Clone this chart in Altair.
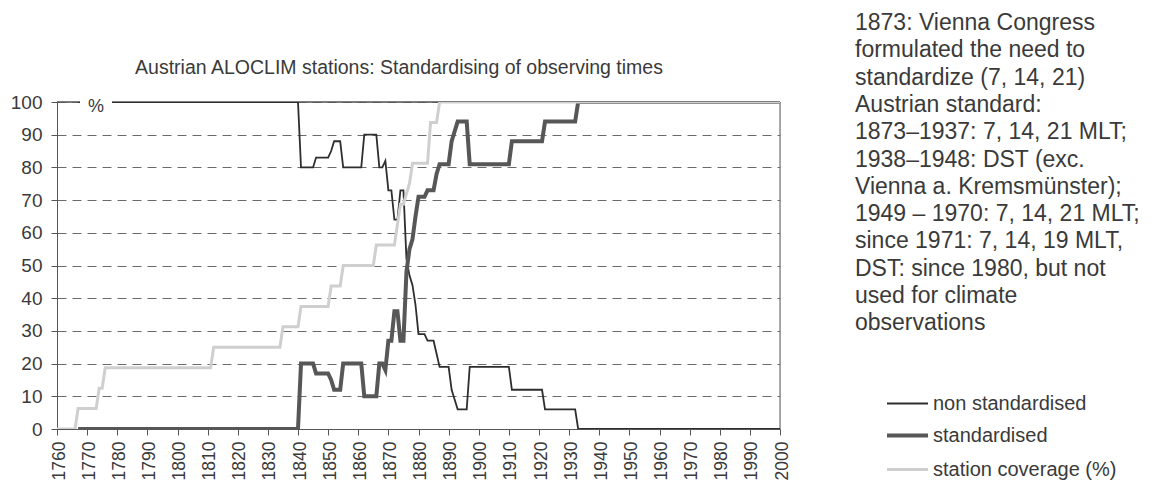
import altair as alt
import pandas as pd

# ---- data ----
nonstd_years = [1767, 1840, 1841, 1845, 1846, 1850, 1851, 1852, 1854, 1855, 1861, 1862, 1866, 1867, 1868,
                1869, 1870, 1871, 1872, 1873, 1874, 1875, 1876, 1877, 1878, 1879, 1880, 1882, 1883, 1885,
                1886, 1887, 1890, 1891, 1892, 1893, 1896, 1897, 1910, 1911, 1921, 1922, 1932, 1933, 2000]
nonstd_values = [100, 100, 80, 80, 83, 83, 85, 88, 88, 80, 80, 90, 90, 80, 80,
                 82, 73, 73, 64, 64, 73, 73, 52, 47, 44, 38, 29, 29, 27, 27,
                 23, 19, 19, 12, 9, 6, 6, 19, 19, 12, 12, 6, 6, 0, 0]

std_years = [1767, 1840, 1841, 1845, 1846, 1850, 1851, 1852, 1854, 1855, 1861, 1862, 1866, 1867, 1868,
             1869, 1870, 1871, 1872, 1873, 1874, 1875, 1876, 1877, 1878, 1879, 1880, 1882, 1883, 1885,
             1886, 1887, 1890, 1891, 1892, 1893, 1896, 1897, 1910, 1911, 1921, 1922, 1932, 1933, 2000]
std_values = [0, 0, 20, 20, 17, 17, 15, 12, 12, 20, 20, 10, 10, 20, 20,
              18, 27, 27, 36, 36, 27, 27, 48, 55, 58, 65, 71, 71, 73, 73,
              78, 81, 81, 88, 91, 94, 94, 81, 81, 88, 88, 94, 94, 100, 100]

cov_years = [1760, 1766, 1767, 1773, 1774, 1775, 1776, 1811, 1812, 1834, 1835, 1840, 1841, 1850, 1851,
             1854, 1855, 1865, 1866, 1872, 1873, 1874, 1875, 1876, 1877, 1878, 1883, 1884, 1886, 1887, 2000]
cov_values = [0, 0, 6.25, 6.25, 12.5, 12.5, 18.75, 18.75, 25, 25, 31.25, 31.25, 37.5, 37.5, 43.75,
              43.75, 50, 50, 56.25, 56.25, 62.5, 68.75, 68.75, 72, 75, 81.25, 81.25, 93.75, 93.75, 100, 100]

x_ticks = list(range(1760, 2001, 10))
y_ticks = list(range(0, 101, 10))

title_text = "Austrian ALOCLIM stations: Standardising of observing times"
unit_text = "%"
note_lines = [
    "1873: Vienna Congress",
    "formulated the need to",
    "standardize (7, 14, 21)",
    "Austrian standard:",
    "1873\u20131937: 7, 14, 21 MLT;",
    "1938\u20131948: DST (exc.",
    "Vienna a. Kremsm\u00fcnster);",
    "1949 \u2013 1970: 7, 14, 21 MLT;",
    "since 1971: 7, 14, 19 MLT,",
    "DST: since 1980, but not",
    "used for climate",
    "observations",
]
legend_labels = ["non standardised", "standardised", "station coverage (%)"]

# ---- layout ----
W, H = 723, 327
FONT = "Liberation Sans"
TXT = "#3a3a3a"

df_non = pd.DataFrame({"year": nonstd_years, "value": nonstd_values})
df_std = pd.DataFrame({"year": std_years, "value": std_values})
df_cov = pd.DataFrame({"year": cov_years, "value": cov_values})
one = pd.DataFrame({"a": [0]})

x_enc = alt.X("year:Q",
              scale=alt.Scale(domain=[1760, 2000], nice=False, zero=False),
              axis=alt.Axis(values=x_ticks, format="d", labelAngle=-90, labelFontSize=17.5,
                            labelPadding=6, labelOffset=2, tickSize=6, grid=False, title=None,
                            labelColor=TXT, labelFont=FONT, domainColor="#555",
                            tickColor="#555", labelOverlap=False))
y_enc = alt.Y("value:Q",
              scale=alt.Scale(domain=[0, 100], nice=False),
              axis=alt.Axis(values=y_ticks, labelFontSize=19, labelPadding=9, tickSize=6,
                            grid=True, gridDash=[9, 6], gridColor="#6a6a6a", gridWidth=1.2,
                            title=None, labelColor=TXT, labelFont=FONT,
                            domainColor="#555", tickColor="#555"))

border_top = alt.Chart(one).mark_rule(color="#555", strokeWidth=1.3).encode(
    x=alt.value(0), x2=alt.value(W), y=alt.value(0))
border_right = alt.Chart(one).mark_rule(color="#777", strokeWidth=1.2).encode(
    x=alt.value(W), y=alt.value(0), y2=alt.value(H))

line_non = alt.Chart(df_non).mark_line(color="#2e2e2e", strokeWidth=1.8, clip=True).encode(x=x_enc, y=y_enc)
line_std = alt.Chart(df_std).mark_line(color="#575757", strokeWidth=4, clip=True).encode(x=x_enc, y=y_enc)
line_cov = alt.Chart(df_cov).mark_line(color="#cfcfcf", strokeWidth=3, clip=True).encode(x=x_enc, y=y_enc)

pct_box = alt.Chart(one).mark_rect(color="white").encode(
    x=alt.value(23), x2=alt.value(55), y=alt.value(-4), y2=alt.value(4))
pct_text = alt.Chart(one).mark_text(font=FONT, fontSize=18, color=TXT, align="center",
                                    baseline="middle").encode(
    x=alt.value(39), y=alt.value(4.5), text=alt.value(unit_text))

title = alt.Chart(one).mark_text(font=FONT, fontSize=19.5, color=TXT, align="center",
                                 baseline="middle").encode(
    x=alt.value(342), y=alt.value(-34), text=alt.value(title_text))

note = alt.Chart(one).mark_text(font=FONT, fontSize=23, color=TXT, align="left",
                                baseline="top", lineHeight=27.3).encode(
    x=alt.value(798), y=alt.value(-90), text=alt.value(note_lines))

leg_y = [301.5, 333.5, 367.5]
leg_colors = ["#2e2e2e", "#575757", "#cfcfcf"]
leg_widths = [1.8, 4, 3]
legend_layers = []
for lab, yy, col, sw in zip(legend_labels, leg_y, leg_colors, leg_widths):
    legend_layers.append(alt.Chart(one).mark_rule(color=col, strokeWidth=sw).encode(
        x=alt.value(830), x2=alt.value(871), y=alt.value(yy)))
    legend_layers.append(alt.Chart(one).mark_text(font=FONT, fontSize=20, color=TXT, align="left",
                                                  baseline="middle").encode(
        x=alt.value(876), y=alt.value(yy), text=alt.value(lab)))

chart = alt.layer(
    border_top, border_right, line_non, line_std, line_cov, pct_box, pct_text, title, note,
    *legend_layers
).properties(
    width=W, height=H,
    padding={"left": 49, "top": 94, "right": 380, "bottom": 56},
    autosize="none",
).configure_view(stroke=None).configure(background="white")

chart.save("out.html", embed_options={"renderer": "svg", "actions": False})
